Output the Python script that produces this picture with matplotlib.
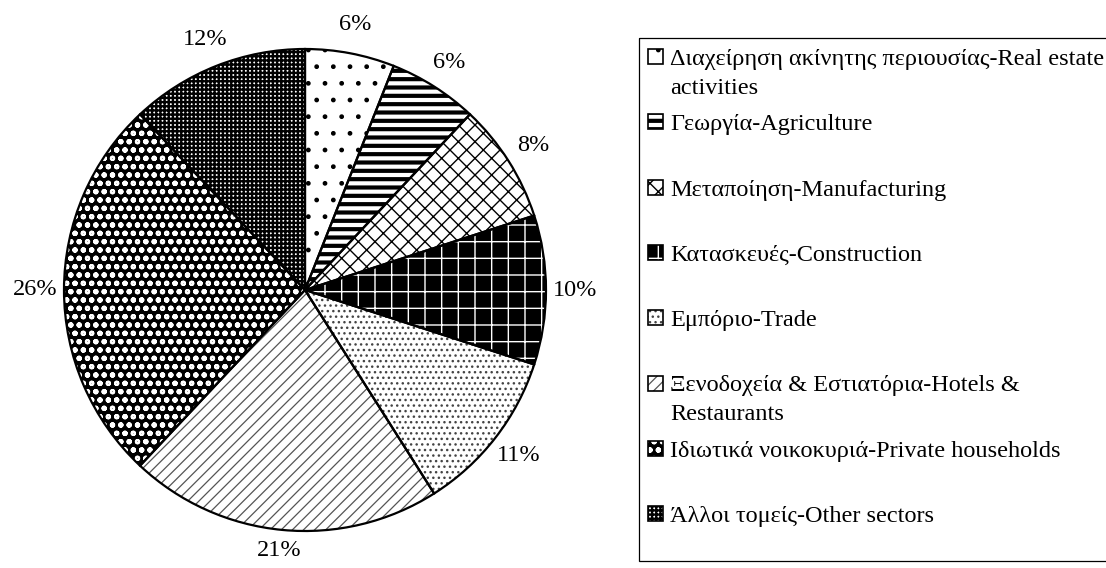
import matplotlib
matplotlib.use('Agg')
import matplotlib.pyplot as plt
from matplotlib.patches import Rectangle

# data
sectors = [
    'Διαχείρηση ακίνητης περιουσίας-Real estate\nactivities',
    'Γεωργία-Agriculture',
    'Μεταποίηση-Manufacturing',
    'Κατασκευές-Construction',
    'Εμπόριο-Trade',
    'Ξενοδοχεία & Εστιατόρια-Hotels &\nRestaurants',
    'Ιδιωτικά νοικοκυριά-Private households',
    'Άλλοι τομείς-Other sectors',
]
shares = [6, 6, 8, 10, 11, 21, 26, 12]

# fill style per slice: face colour, hatch, hatch colour, hatch width
faces = ['white', 'white', 'white', 'black', 'white', 'white', 'black', 'white']
hatches = ['.', '--', 'xx', '+', '...', '///', 'oo', '++++']
hatch_colors = ['black', 'black', 'black', 'white', '#444444', '#555555', 'white', 'black']
hatch_widths = [1.0, 3.0, 1.0, 1.0, 1.0, 0.9, 1.5, 1.7]

plt.rcParams['font.family'] = ['Liberation Serif', 'DejaVu Serif']
FS = 17.5

W, H = 1106, 568
fig = plt.figure(figsize=(W / 100, H / 100), dpi=100)

# pie: centre (305, 290) px, radius 241 px
cx, cy, r = 305, 290, 241
ax = fig.add_axes([(cx - r) / W, (H - cy - r) / H, 2 * r / W, 2 * r / H])


def set_hlw(p, lw):
    if hasattr(p, 'set_hatch_linewidth'):
        p.set_hatch_linewidth(lw)
    else:
        p._hatch_linewidth = lw


wedges, _, autotexts = ax.pie(shares, startangle=90, counterclock=False, radius=1,
                              autopct=lambda p: f'{p:.0f}%', pctdistance=1.12,
                              textprops=dict(fontsize=FS, color='black'))
for w, fc, hc, hh, hw in zip(wedges, faces, hatch_colors, hatches, hatch_widths):
    w.set_facecolor(fc)
    w.set_edgecolor(hc)
    w.set_linewidth(0)
    w.set_hatch(hh)
    set_hlw(w, hw)

# keep the bottom label inside the picture
for t in autotexts:
    x, y = t.get_position()
    if y < -1.08:
        t.set_position((x, -1.08))

# outlines on top
ax.pie(shares, startangle=90, counterclock=False, radius=1,
       wedgeprops=dict(fill=False, edgecolor='black', linewidth=1.6))
ax.set_xlim(-1, 1)
ax.set_ylim(-1, 1)
ax.set_aspect('auto')

# legend drawn by hand in pixel coordinates
lax = fig.add_axes([0, 0, 1, 1], zorder=-1)
lax.set_xlim(0, W)
lax.set_ylim(H, 0)
lax.axis('off')
lax.add_patch(Rectangle((639, 38), 480, 523, fill=False, edgecolor='black', linewidth=0.9))

for i, lab in enumerate(sectors):
    base = 65 + i * 65.3
    sq = Rectangle((648, base - 16), 15, 15, facecolor=faces[i], edgecolor=hatch_colors[i],
                   linewidth=0, hatch=hatches[i])
    set_hlw(sq, hatch_widths[i])
    lax.add_patch(sq)
    lax.add_patch(Rectangle((648, base - 16), 15, 15, fill=False, edgecolor='black', linewidth=1.2))
    for j, line in enumerate(lab.split('\n')):
        lax.text(670, base + j * 29, line, fontsize=FS, va='baseline', ha='left')

fig.savefig('out.png', dpi=100)
